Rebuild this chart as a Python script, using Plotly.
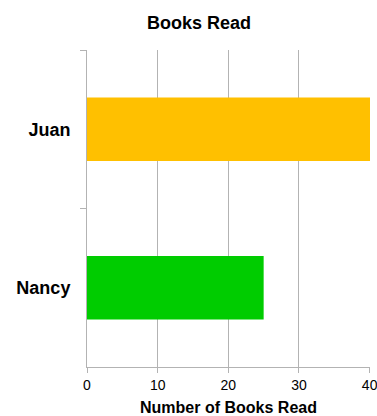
import plotly.graph_objects as go

names = ["Juan", "Nancy"]
books = [41, 25]
colors = ["#FFC000", "#00CC00"]
x_ticks = [0, 10, 20, 30, 40]

fig = go.Figure(go.Bar(
    x=books, y=names, orientation="h",
    marker=dict(color=colors, line=dict(width=0)),
    width=0.4,
))

fig.update_layout(
    width=377, height=416,
    margin=dict(l=87, r=7, t=50, b=49, autoexpand=False),
    plot_bgcolor="white", paper_bgcolor="white",
    showlegend=False,
    font=dict(family="Liberation Sans, Arial, sans-serif", color="black"),
    title=dict(text="<b>Books Read</b>", x=0.528, xanchor="center",
               y=0.945, yanchor="middle", font=dict(size=18)),
)
fig.update_xaxes(
    range=[0, 40.05], tickvals=x_ticks, showgrid=True, gridcolor="#b3b3b3", gridwidth=1,
    showline=True, linecolor="#b3b3b3", linewidth=1,
    ticks="outside", ticklen=5, tickcolor="#b3b3b3",
    tickfont=dict(size=14), zeroline=False, automargin=False,
    ticklabeloverflow="allow",
    title=dict(text="<b>Number of Books Read</b>", font=dict(size=16), standoff=10),
)
fig.update_yaxes(
    autorange="reversed", showline=True, linecolor="#b3b3b3", linewidth=1,
    ticks="outside", tickson="boundaries", ticklen=6, tickcolor="#b3b3b3",
    tickfont=dict(size=18), ticklabelstandoff=12, automargin=False,
    showgrid=False,
    tickprefix="<b>", ticksuffix="</b>",
)

fig.write_html("out.html")
